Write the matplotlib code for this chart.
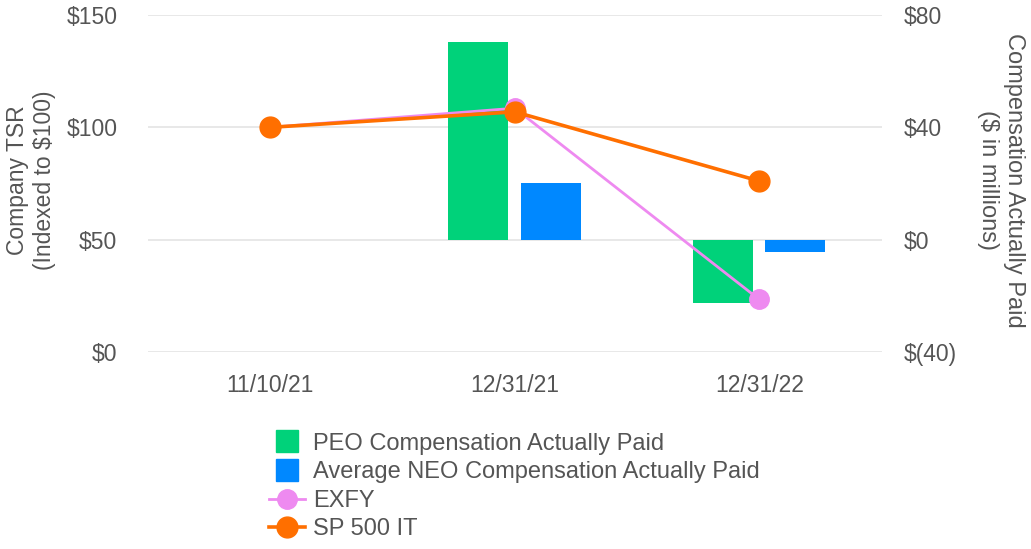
import matplotlib
matplotlib.use("Agg")
import matplotlib.pyplot as plt
import numpy as np
from matplotlib.lines import Line2D

categories = ["11/10/21", "12/31/21", "12/31/22"]
peo_cap = [np.nan, 70.3, -22.5]       # $ millions (right axis)
neo_cap = [np.nan, 20.3, -4.5]        # $ millions (right axis)
exfy_tsr = [100, 108.5, 23.4]         # indexed (left axis)
sp500it_tsr = [100, 106.9, 76.1]      # indexed (left axis)
left_ticks = [0, 50, 100, 150]
left_ticklabels = ["$0", "$50", "$100", "$150"]
right_ticks = [-40, 0, 40, 80]
right_ticklabels = ["$(40)", "$0", "$40", "$80"]

GREEN = "#00D27A"
BLUE = "#0088FF"
PINK = "#EE8AF0"
ORANGE = "#FF6F00"
TXT = "#555555"
FONT = "Liberation Sans"

plt.rcParams["font.family"] = [FONT, "DejaVu Sans"]

fig = plt.figure(figsize=(10.31, 5.49), dpi=100)
ax = fig.add_axes([0.1435, 0.3588, 0.7115, 0.6139])
ax2 = ax.twinx()

x = np.arange(len(categories))
w = 0.245
ax2.bar(x - 0.15, peo_cap, width=w, color=GREEN, zorder=2)
ax2.bar(x + 0.148, neo_cap, width=w, color=BLUE, zorder=2)

ax.plot(x, exfy_tsr, color=PINK, lw=2.0, marker="o", ms=14, zorder=3)
ax.plot(x, sp500it_tsr, color=ORANGE, lw=2.6, marker="o", ms=15, zorder=4)

ax.set_zorder(ax2.get_zorder() + 1)
ax.patch.set_visible(False)

ax.set_xlim(-0.5, 2.5)
ax.set_ylim(0, 150)
ax2.set_ylim(-40, 80)
ax.set_yticks(left_ticks)
ax.set_yticklabels(left_ticklabels)
ax2.set_yticks(right_ticks)
ax2.set_yticklabels(right_ticklabels)
ax.set_xticks(x)
ax.set_xticklabels(categories)

for a in (ax, ax2):
    for s in a.spines.values():
        s.set_visible(False)
    a.tick_params(length=0, labelsize=16.5, colors=TXT)
ax.tick_params(axis="y", pad=22)
ax2.tick_params(axis="y", pad=16)
ax.tick_params(axis="x", pad=16)
ax.grid(False)
ax2.grid(axis="y", color="#e6e6e6", lw=1.3, zorder=0)
ax2.set_axisbelow(True)

fig.text(0.030, 0.672, "Company TSR\n(Indexed to $100)", rotation=90, ha="center", va="center",
         fontsize=16.5, color=TXT, linespacing=1.25)
fig.text(0.971, 0.672, "Compensation Actually Paid\n($ in millions)", rotation=270, ha="center", va="center",
         fontsize=17, color=TXT, linespacing=1.25)

handles = [
    Line2D([], [], color=GREEN, lw=0, marker="s", ms=16),
    Line2D([], [], color=BLUE, lw=0, marker="s", ms=16),
    Line2D([], [], color=PINK, lw=2.0, marker="o", ms=14),
    Line2D([], [], color=ORANGE, lw=2.6, marker="o", ms=15),
]
labels = ["PEO Compensation Actually Paid", "Average NEO Compensation Actually Paid", "EXFY", "SP 500 IT"]
leg = fig.legend(handles, labels, loc="upper left", bbox_to_anchor=(0.261, 0.212), frameon=False,
                 fontsize=17, labelcolor=TXT, handlelength=1.5, handletextpad=0.35,
                 labelspacing=0.28, borderaxespad=0, borderpad=0)

fig.savefig("out.png", dpi=100)
